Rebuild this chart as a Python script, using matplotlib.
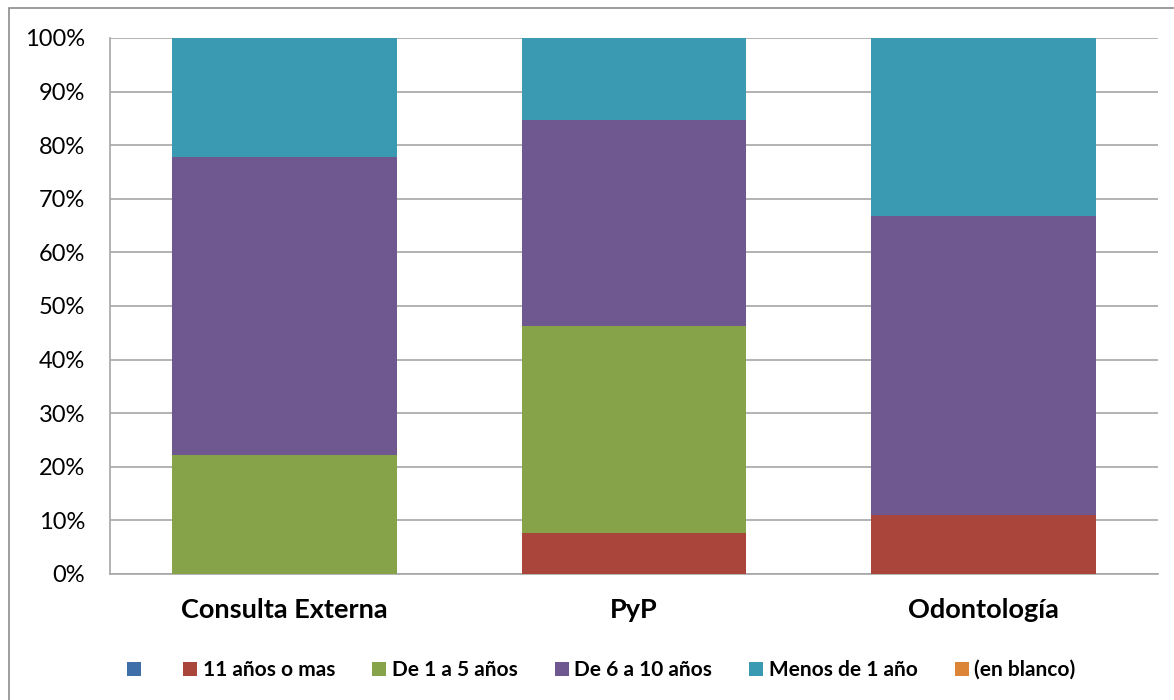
import matplotlib.pyplot as plt
from matplotlib.patches import Rectangle
from matplotlib.ticker import FuncFormatter

# --- DATA (percent of each service) ---
categories = ["Consulta Externa", "PyP", "Odontología"]
series_names = ["", "11 años o mas", "De 1 a 5 años", "De 6 a 10 años", "Menos de 1 año", "(en blanco)"]
sin_dato = [0, 0, 0]
once_o_mas = [0, 7.7, 11.1]
uno_a_cinco = [22.2, 38.5, 0]
seis_a_diez = [55.6, 38.5, 55.6]
menos_de_uno = [22.2, 15.4, 33.3]
en_blanco = [0, 0, 0]

colors = ["#3F6FA8", "#AA453C", "#87A34A", "#6F5790", "#3A9AB1", "#DD8536"]

# --- PLOT ---
fig = plt.figure(figsize=(11.74, 7), dpi=100)
ax = fig.add_axes([110 / 1174, 126 / 700, 1048 / 1174, 536 / 700])

x = list(range(len(categories)))
bottom = [0, 0, 0]
handles = []
for name, vals, col in zip(series_names,
                           [sin_dato, once_o_mas, uno_a_cinco, seis_a_diez, menos_de_uno, en_blanco],
                           colors):
    bars = ax.bar(x, vals, bottom=bottom, width=0.644, color=col, label=name, zorder=3)
    handles.append(bars)
    bottom = [b + v for b, v in zip(bottom, vals)]

ax.set_xlim(-0.5, 2.5)
ax.set_ylim(0, 100)
ax.set_yticks(range(0, 101, 10))
ax.yaxis.set_major_formatter(FuncFormatter(lambda v, _: f"{v:.0f}%"))
ax.grid(axis="y", color="#A6A6A6", linewidth=1.2, zorder=0)

ax.set_xticks(x)
ax.set_xticklabels(categories, fontsize=19.5, fontweight="bold", family="Lato")
for lbl in ax.get_yticklabels():
    lbl.set_family("Lato")
    lbl.set_fontsize(17)
ax.tick_params(axis="y", length=0, pad=18)
ax.tick_params(axis="x", length=0, pad=17.5)

for side in ["top", "right"]:
    ax.spines[side].set_visible(False)
for side in ["left", "bottom"]:
    ax.spines[side].set_color("#A6A6A6")
    ax.spines[side].set_linewidth(1.2)

fig.legend(handles=handles, labels=series_names, loc="center", ncol=6,
           bbox_to_anchor=(0.512, 1 - 670 / 700), frameon=False,
           prop={"family": "Lato", "weight": "bold", "size": 15},
           handlelength=0.67, handleheight=0.67, handletextpad=0.25, columnspacing=1.8)

# chart area border
fig.patches.append(Rectangle((9 / 1174, -0.05), 1.2, 1 - 8 / 700 + 0.05,
                             transform=fig.transFigure, fill=False,
                             edgecolor="#8C8C8C", linewidth=1.2))

fig.savefig("out.png", dpi=100)
